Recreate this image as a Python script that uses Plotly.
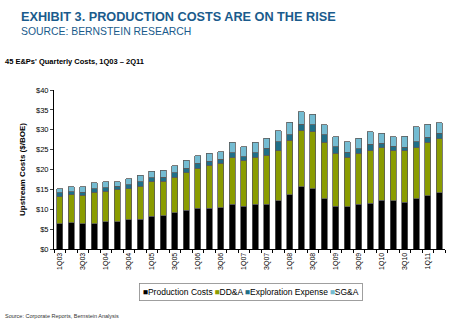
import plotly.graph_objects as go

quarters = ["1Q03","2Q03","3Q03","4Q03","1Q04","2Q04","3Q04","4Q04",
            "1Q05","2Q05","3Q05","4Q05","1Q06","2Q06","3Q06","4Q06",
            "1Q07","2Q07","3Q07","4Q07","1Q08","2Q08","3Q08","4Q08",
            "1Q09","2Q09","3Q09","4Q09","1Q10","2Q10","3Q10","4Q10",
            "1Q11","2Q11"]

production_costs = [6.4, 6.6, 6.4, 6.4, 6.9, 6.9, 7.4, 7.5, 8.2, 8.4, 9.1, 9.8,
                    10.3, 10.3, 10.4, 11.2, 10.8, 11.2, 11.2, 12.1, 13.6, 15.7,
                    15.1, 12.6, 10.8, 10.6, 11.2, 11.5, 12.3, 12.2, 11.7, 12.6,
                    13.4, 14.2]
dda = [6.7, 7.0, 7.1, 7.9, 7.6, 8.1, 7.8, 8.3, 8.7, 8.7, 8.9, 9.4,
       10.0, 10.8, 11.2, 11.8, 11.4, 11.9, 12.4, 12.6, 13.8, 14.1,
       14.4, 14.2, 13.3, 12.5, 12.9, 13.2, 13.2, 12.5, 13.0, 12.9,
       13.4, 13.5]
exploration = [1.0, 0.8, 0.8, 0.9, 0.9, 0.8, 1.0, 1.1, 1.0, 1.0, 1.2, 1.1,
               1.3, 1.0, 1.0, 1.2, 1.0, 1.1, 1.7, 2.3, 1.3, 1.6,
               1.7, 1.9, 1.6, 1.2, 1.1, 1.7, 1.1, 1.2, 0.9, 1.5,
               1.3, 1.4]
sga = [1.0, 1.3, 1.3, 1.5, 1.5, 1.1, 1.5, 1.7, 1.6, 1.7, 1.7, 2.0,
       1.8, 2.0, 1.9, 2.6, 2.5, 2.6, 2.5, 2.7, 3.2, 3.1,
       2.7, 2.5, 2.6, 2.7, 2.6, 3.1, 2.5, 2.4, 2.8, 3.8,
       3.3, 2.7]

series = [("Production Costs", production_costs, "#000000"),
          ("DD&A", dda, "#8a9c00"),
          ("Exploration Expense", exploration, "#1f6f88"),
          ("SG&A", sga, "#74bcd2")]

y_ticks = [0, 5, 10, 15, 20, 25, 30, 35, 40]
y_tick_text = ["$" + str(v) for v in y_ticks]

fig = go.Figure()
xs = list(range(len(quarters)))
for name, vals, col in series:
    fig.add_trace(go.Bar(x=xs, y=vals, name=name, marker_color=col,
                         marker_line=dict(color="#5a5a5a", width=0.8),
                         width=0.55, showlegend=False))

# plot area in pixels
L, R, T, B = 54, 5, 90, 81
W, H = 450, 330
pw, ph = W - L - R, H - T - B

def px(x):
    return (x - L) / pw

def py(y):
    return (H - B - y) / ph

fig.update_layout(
    width=W, height=H, barmode="stack", bargap=0.45,
    margin=dict(l=L, r=R, t=T, b=B, pad=0),
    plot_bgcolor="white", paper_bgcolor="white",
    font=dict(family="Liberation Sans, Arial", size=8, color="#000"),
    showlegend=False,
)
fig.update_xaxes(
    range=[-0.5, len(quarters) - 0.5],
    tickvals=xs[::2], ticktext=quarters[::2], tickangle=-90,
    tickfont=dict(size=7, color="#000"),
    showline=True, linecolor="#000", linewidth=1, ticks="",
    minor=dict(tickvals=[i - 0.5 for i in range(len(quarters) + 1)], ticks="outside",
               ticklen=3, tickcolor="#000"),
    showgrid=False, zeroline=False,
)
fig.update_yaxes(
    range=[0, 40], tickvals=y_ticks, ticktext=y_tick_text,
    tickfont=dict(size=7.5, color="#000"),
    showline=True, linecolor="#000", linewidth=1, ticks="outside", ticklen=3,
    showgrid=False, zeroline=False,
)

# legend drawn as a boxed text line
legend_text = "&#8201;".join(
    "<span style='color:%s'>■</span>%s" % (col, name) for name, _, col in series)
fig.add_annotation(text=legend_text, xref="paper", yref="paper",
                   x=px(251), y=py(291.5), xanchor="center", yanchor="middle",
                   showarrow=False, font=dict(size=8.5, color="#000"),
                   bordercolor="#888", borderwidth=0.8, borderpad=3, bgcolor="white")

fig.add_annotation(text="<b>Upstream Costs ($/BOE)</b>", xref="paper", yref="paper",
                   x=px(22), y=py(170), xanchor="center", yanchor="middle", textangle=-90,
                   showarrow=False, font=dict(size=8, color="#000"))

fig.add_annotation(text="<b>EXHIBIT 3. PRODUCTION COSTS ARE ON THE RISE</b>",
                   xref="paper", yref="paper", x=px(19), y=py(17), xanchor="left", yanchor="middle",
                   showarrow=False,
                   font=dict(family="Liberation Sans Narrow, Arial Narrow, Liberation Sans", size=12.7, color="#1a5b8c"))
fig.add_annotation(text="SOURCE: BERNSTEIN RESEARCH",
                   xref="paper", yref="paper", x=px(19), y=py(31), xanchor="left", yanchor="middle",
                   showarrow=False,
                   font=dict(family="Liberation Sans Narrow, Arial Narrow, Liberation Sans", size=10.4, color="#1a5b8c"))
fig.add_annotation(text="<b>45 E&Ps' Quarterly Costs, 1Q03 – 2Q11</b>",
                   xref="paper", yref="paper", x=px(3), y=py(61), xanchor="left", yanchor="middle",
                   showarrow=False, font=dict(size=7.5, color="#000"))
fig.add_annotation(text="Source: Corporate Reports, Bernstein Analysis",
                   xref="paper", yref="paper", x=px(3), y=py(316), xanchor="left", yanchor="middle",
                   showarrow=False, font=dict(size=5.5, color="#333"))

fig.write_html("out.html")
